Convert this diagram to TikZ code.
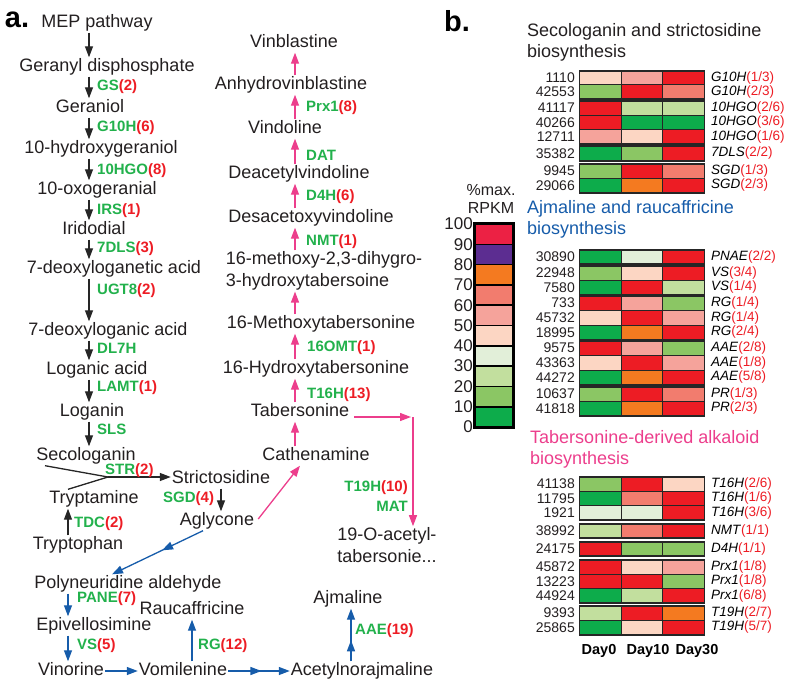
\documentclass[tikz,border=0pt]{standalone}
\usepackage{fontspec}
\setmainfont{Liberation Sans}
\usetikzlibrary{arrows.meta,positioning,decorations.markings}
\definecolor{enzgreen}{RGB}{34,177,76}
\definecolor{enzred}{RGB}{237,28,36}
\definecolor{pathpink}{RGB}{236,62,140}
\definecolor{pathblue}{RGB}{22,92,170}
\definecolor{txtgray}{RGB}{35,31,32}
\definecolor{hred}{RGB}{237,28,36}
\definecolor{hsalmon}{RGB}{242,124,110}
\definecolor{hlsalmon}{RGB}{245,163,155}
\definecolor{hpeach}{RGB}{252,214,195}
\definecolor{hvlight}{RGB}{226,239,217}
\definecolor{hlgreen}{RGB}{194,223,158}
\definecolor{hgreen}{RGB}{139,198,100}
\definecolor{hdgreen}{RGB}{13,172,75}
\definecolor{horange}{RGB}{244,122,32}
\definecolor{hpurple}{RGB}{92,45,145}
\definecolor{htop}{RGB}{236,33,68}
\newcommand{\enzlab}[2]{\textcolor{enzgreen}{#1}\textcolor{enzred}{(#2)}}
% one heatmap row: y, id, gene, fraction, three fills
\newcommand{\hrow}[7]{%
  \node[hcell, fill=#5] (r#2a) at (600.5,#1) {};
  \node[hcell, fill=#6] (r#2b) at (642,#1) {};
  \node[hcell, fill=#7] (r#2c) at (683.5,#1) {};
  \node[rowid] (id#2) at (576,#1) {#2};
  \node[gene] (g#2) at (710,#1) {\textit{#3}\textcolor{enzred}{(#4)}};
}
\newcommand{\hgroup}[2]{\draw[gframe] (579.5,#1-7.2) rectangle (704.5,#2+7.2);}
\tikzset{
  >={Triangle[length=11pt,width=8pt]},
  cpd/.style={font=\fontsize{18}{22}\selectfont, text=txtgray, inner sep=1pt, text height=13pt, text depth=4pt},
  cpdtwo/.style={font=\fontsize{18}{22}\selectfont, text=txtgray, inner sep=1pt, align=left},
  enz/.style={font=\fontsize{15}{17}\selectfont\bfseries, text=enzgreen, inner sep=0pt, anchor=west},
  plabel/.style={font=\fontsize{29}{30}\selectfont\bfseries, text=black},
  title/.style={font=\fontsize{18}{21}\selectfont, inner sep=0pt, align=left, anchor=west},
  blk/.style={->, draw=black!85, line width=1.3pt},
  blkline/.style={draw=black!85, line width=1.3pt},
  pnk/.style={->, draw=pathpink, line width=1.3pt},
  blu/.style={->, draw=pathblue, line width=1.3pt},
  midhead/.style={postaction={decorate,decoration={markings,mark=at position #1 with {\arrow{Triangle[length=11pt,width=8pt]}}}}},
  hcell/.style={draw=black!85, line width=1.1pt, minimum width=41.5pt, minimum height=14.4pt, inner sep=0pt},
  gframe/.style={draw=black!85, line width=1.8pt},
  rowid/.style={font=\fontsize{14}{16}\selectfont, text=txtgray, anchor=east, inner sep=1pt},
  gene/.style={font=\fontsize{13.5}{16}\selectfont, text=black, anchor=west, inner sep=1pt},
  legcell/.style={draw=black, line width=1.6pt, minimum width=38pt, minimum height=20.3pt, inner sep=0pt},
  legnum/.style={font=\fontsize{17}{18}\selectfont, text=txtgray, anchor=east, inner sep=1pt},
  daylab/.style={font=\fontsize{14.5}{16}\selectfont\bfseries, text=black},
}
\begin{document}
\begin{tikzpicture}[x=1pt,y=-1pt]
\path[use as bounding box] (0,0) rectangle (787,682);

% a. pathway
\node[plabel] (pa) at (17,20) {a.};
\coordinate (colA) at (89,0);
\coordinate (colT) at (68,0);
\coordinate (colP) at (295,0);
\coordinate (colJ) at (351,0);
\coordinate (jn) at (108,477);
\coordinate (tcorner) at (413,417);

\node[cpd] (mep) at (97,23) {MEP pathway};
\node[cpd] (gpp) at (107,67) {Geranyl disphosphate};
\node[cpd] (ger) at (90,108) {Geraniol};
\node[cpd] (hger) at (101,149) {10-hydroxygeraniol};
\node[cpd] (oxo) at (97,190) {10-oxogeranial};
\node[cpd] (iri) at (94,230) {Iridodial};
\node[cpd] (dla) at (114,269) {7-deoxyloganetic acid};
\node[cpd] (dlg) at (108,331) {7-deoxyloganic acid};
\node[cpd] (lga) at (97,370) {Loganic acid};
\node[cpd] (lgn) at (92,412) {Loganin};
\node[cpd] (seco) at (86,456) {Secologanin};
\node[cpd] (stri) at (221,479) {Strictosidine};
\node[cpd] (tryp) at (94,499) {Tryptamine};
\node[cpd] (trph) at (78,545) {Tryptophan};
\node[cpd] (agly) at (217,521) {Aglycone};
\node[cpd] (pol) at (128,584) {Polyneuridine aldehyde};
\node[cpd] (epi) at (94,626) {Epivellosimine};
\node[cpd] (vino) at (71,671) {Vinorine};
\node[cpd] (vomi) at (183,671) {Vomilenine};
\node[cpd] (rauc) at (192,610) {Raucaffricine};
\node[cpd] (acet) at (362,671) {Acetylnorajmaline};
\node[cpd] (ajm) at (348,599) {Ajmaline};

\node[cpd] (vinb) at (294,43) {Vinblastine};
\node[cpd] (anhy) at (291,85) {Anhydrovinblastine};
\node[cpd] (vind) at (285,129) {Vindoline};
\node[cpd] (deac) at (299,174) {Deacetylvindoline};
\node[cpd] (desa) at (311,218) {Desacetoxyvindoline};
\node[cpdtwo] (meth) at (324,271) {16-methoxy-2,3-dihygro-\\3-hydroxytabersoine};
\node[cpd] (mtab) at (321,324) {16-Methoxytabersonine};
\node[cpd] (htab) at (316,369) {16-Hydroxytabersonine};
\node[cpd] (tabe) at (300,412) {Tabersonine};
\node[cpd] (cath) at (316,456) {Cathenamine};
\node[cpdtwo] (acetab) at (387,545) {19-O-acetyl-\\tabersonie...};

\draw[blk] (mep.south -| colA) -- (gpp.north -| colA);
\draw[blk] (gpp.south -| colA) -- (ger.north -| colA);
\draw[blk] (ger.south -| colA) -- (hger.north -| colA);
\draw[blk] (hger.south -| colA) -- (oxo.north -| colA);
\draw[blk] (oxo.south -| colA) -- (iri.north -| colA);
\draw[blk] (iri.south -| colA) -- (dla.north -| colA);
\draw[blk] (dla.south -| colA) -- (dlg.north -| colA);
\draw[blk] (dlg.south -| colA) -- (lga.north -| colA);
\draw[blk] (lga.south -| colA) -- (lgn.north -| colA);
\draw[blk] (lgn.south -| colA) -- (seco.north -| colA);
\draw[blkline] ([xshift=-41pt]seco.south) -- (jn);
\draw[blkline] ([xshift=-26pt]tryp.north) -- (jn);
\draw[blk] (jn) -- (stri.west |- jn);
\draw[blk] (trph.north -| colT) -- (tryp.south -| colT);
\draw[blk] (stri.south) -- (agly.north -| stri.south);

\draw[blu, midhead=0.45] ([xshift=-14pt]agly.south) -- ([xshift=-16pt]pol.north);
\draw[blu] (pol.south -| colT) -- (epi.north -| colT);
\draw[blu] (epi.south -| colT) -- (vino.north -| colT);
\draw[blu] (vino.east) -- (vomi.west);
\draw[blu] (vomi.north -| rauc.south) -- (rauc.south);
\draw[blu, midhead=0.54] (vomi.east) -- (acet.west);
\draw[blu, midhead=0.4] (acet.north -| colJ) -- (ajm.south -| colJ);

\draw[pnk] ([xshift=3pt,yshift=2pt]agly.east) -- ([xshift=-16pt]cath.south);
\draw[pnk] (cath.north -| colP) -- (tabe.south -| colP);
\draw[pnk] (tabe.north -| colP) -- (htab.south -| colP);
\draw[pnk] (htab.north -| colP) -- (mtab.south -| colP);
\draw[pnk] (mtab.north -| colP) -- (meth.south -| colP);
\draw[pnk] (meth.north -| colP) -- (desa.south -| colP);
\draw[pnk] (desa.north -| colP) -- (deac.south -| colP);
\draw[pnk] (deac.north -| colP) -- (vind.south -| colP);
\draw[pnk] (vind.north -| colP) -- (anhy.south -| colP);
\draw[pnk] (anhy.north -| colP) -- (vinb.south -| colP);
\draw[pnk] ([xshift=4pt,yshift=-5pt]tabe.east) -- ([xshift=-2pt]tcorner);
\draw[pnk] (tcorner) -- (tcorner |- acetab.north);

\node[enz] (e1) at (97,87) {\enzlab{GS}{2}};
\node[enz] (e2) at (97,128) {\enzlab{G10H}{6}};
\node[enz] (e3) at (97,171) {\enzlab{10HGO}{8}};
\node[enz] (e4) at (97,211) {\enzlab{IRS}{1}};
\node[enz] (e5) at (97,249) {\enzlab{7DLS}{3}};
\node[enz] (e6) at (97,291) {\enzlab{UGT8}{2}};
\node[enz] (e7) at (97,348) {DL7H};
\node[enz] (e8) at (97,388) {\enzlab{LAMT}{1}};
\node[enz] (e9) at (97,429) {SLS};
\node[enz] (e10) at (105,471) {\enzlab{STR}{2}};
\node[enz] (e11) at (163,499) {\enzlab{SGD}{4}};
\node[enz] (e12) at (74,524) {\enzlab{TDC}{2}};
\node[enz] (e13) at (77,599) {\enzlab{PANE}{7}};
\node[enz] (e14) at (77,646) {\enzlab{VS}{5}};
\node[enz] (e15) at (198,646) {\enzlab{RG}{12}};
\node[enz] (e16) at (355,631) {\enzlab{AAE}{19}};
\node[enz] (e17) at (306,108) {\enzlab{Prx1}{8}};
\node[enz] (e18) at (306,155) {DAT};
\node[enz] (e19) at (306,197) {\enzlab{D4H}{6}};
\node[enz] (e20) at (306,242) {\enzlab{NMT}{1}};
\node[enz] (e21) at (307,348) {\enzlab{16OMT}{1}};
\node[enz] (e22) at (307,395) {\enzlab{T16H}{13}};
\node[enz, anchor=east] (e23) at (408,488) {\enzlab{T19H}{10}};
\node[enz, anchor=east] (e24) at (408,506) {MAT};

% b. heatmap
\node[plabel] (pb) at (457,21) {b.};
\node[title, text=txtgray] (t1) at (527,42) {Secologanin and strictosidine\\biosynthesis};
\node[title, text=pathblue] (t2) at (527,219) {Ajmaline and raucaffricine\\biosynthesis};
\node[title, text=pathpink] (t3) at (530,449) {Tabersonine-derived alkaloid\\biosynthesis};

\node[font=\fontsize{16}{18}\selectfont, text=txtgray, align=center, inner sep=0pt] (lt) at (491,199) {\%max.\\RPKM};
\node[legcell, fill=htop] (l9) at (494,234.15) {};
\node[legcell, fill=hpurple] (l8) at (494,254.45) {};
\node[legcell, fill=horange] (l7) at (494,274.75) {};
\node[legcell, fill=hsalmon] (l6) at (494,295.05) {};
\node[legcell, fill=hlsalmon] (l5) at (494,315.35) {};
\node[legcell, fill=hpeach] (l4) at (494,335.65) {};
\node[legcell, fill=hvlight] (l3) at (494,355.95) {};
\node[legcell, fill=hlgreen] (l2) at (494,376.25) {};
\node[legcell, fill=hgreen] (l1) at (494,396.55) {};
\node[legcell, fill=hdgreen] (l0) at (494,416.85) {};
\draw[line width=2.6pt] (l9.north west) rectangle (l0.south east);
\node[legnum] (n100) at (474,224) {100};
\node[legnum] (n90) at (474,244.3) {90};
\node[legnum] (n80) at (474,264.6) {80};
\node[legnum] (n70) at (474,284.9) {70};
\node[legnum] (n60) at (474,305.2) {60};
\node[legnum] (n50) at (474,325.5) {50};
\node[legnum] (n40) at (474,345.8) {40};
\node[legnum] (n30) at (474,366.1) {30};
\node[legnum] (n20) at (474,386.4) {20};
\node[legnum] (n10) at (474,406.7) {10};
\node[legnum] (n0) at (474,427) {0};

\hrow{78}{1110}{G10H}{1/3}{hpeach}{hlsalmon}{hred}
\hrow{92}{42553}{G10H}{2/3}{hgreen}{hred}{hsalmon}
\hgroup{78}{92}
\hrow{108}{41117}{10HGO}{2/6}{hred}{hlgreen}{hlgreen}
\hrow{122.5}{40266}{10HGO}{3/6}{hred}{hdgreen}{hdgreen}
\hrow{137}{12711}{10HGO}{1/6}{hlsalmon}{hpeach}{hred}
\hgroup{108}{137}
\hrow{153.5}{35382}{7DLS}{2/2}{hdgreen}{hgreen}{hred}
\hgroup{153.5}{153.5}
\hrow{171}{9945}{SGD}{1/3}{hgreen}{hred}{hsalmon}
\hrow{185.5}{29066}{SGD}{2/3}{hdgreen}{horange}{hred}
\hgroup{171}{185.5}

\hrow{257}{30890}{PNAE}{2/2}{hdgreen}{hvlight}{hred}
\hgroup{257}{257}
\hrow{273}{22948}{VS}{3/4}{hgreen}{hpeach}{hred}
\hrow{287.5}{7580}{VS}{1/4}{hdgreen}{hred}{hlgreen}
\hgroup{273}{287.5}
\hrow{303}{733}{RG}{1/4}{hred}{hlsalmon}{hgreen}
\hrow{318}{45732}{RG}{1/4}{hpeach}{hred}{hlsalmon}
\hrow{332.5}{18995}{RG}{2/4}{hdgreen}{horange}{hred}
\hgroup{303}{332.5}
\hrow{348}{9575}{AAE}{2/8}{hred}{hlsalmon}{hgreen}
\hrow{363}{43363}{AAE}{1/8}{hpeach}{hred}{hlsalmon}
\hrow{377.5}{44272}{AAE}{5/8}{hdgreen}{horange}{hred}
\hgroup{348}{377.5}
\hrow{394}{10637}{PR}{1/3}{hgreen}{hred}{hsalmon}
\hrow{408.5}{41818}{PR}{2/3}{hdgreen}{horange}{hred}
\hgroup{394}{408.5}

\hrow{484}{41138}{T16H}{2/6}{hgreen}{hred}{hpeach}
\hrow{498.5}{11795}{T16H}{1/6}{hdgreen}{hsalmon}{hred}
\hrow{513}{1921}{T16H}{3/6}{hvlight}{hvlight}{hred}
\hgroup{484}{513}
\hrow{531}{38992}{NMT}{1/1}{hlgreen}{hsalmon}{hred}
\hgroup{531}{531}
\hrow{549}{24175}{D4H}{1/1}{hred}{hgreen}{hgreen}
\hgroup{549}{549}
\hrow{567}{45872}{Prx1}{1/8}{hred}{hpeach}{hlsalmon}
\hrow{581.5}{13223}{Prx1}{1/8}{hred}{hred}{hgreen}
\hrow{596}{44924}{Prx1}{6/8}{hdgreen}{hlgreen}{hred}
\hgroup{567}{596}
\hrow{613}{9393}{T19H}{2/7}{hlgreen}{hred}{horange}
\hrow{627.5}{25865}{T19H}{5/7}{hdgreen}{hpeach}{hred}
\hgroup{613}{627.5}

\node[daylab] (d0) at (599,651) {Day0};
\node[daylab] (d10) at (648,651) {Day10};
\node[daylab] (d30) at (697,651) {Day30};
\end{tikzpicture}
\end{document}
